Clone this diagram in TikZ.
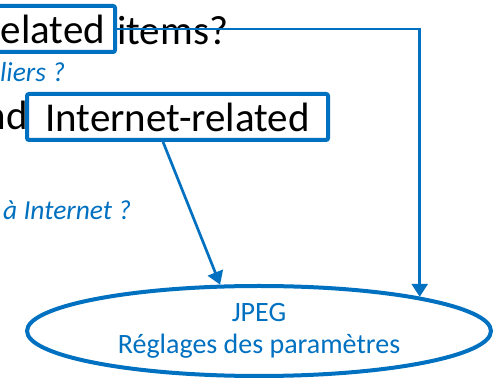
\documentclass[tikz,border=0pt]{standalone}
\usepackage{fontspec}
\setmainfont{Carlito}
\usepackage{tikz}
\usetikzlibrary{arrows.meta,shapes.geometric}
\definecolor{msblue}{HTML}{0070C0}
\tikzset{bigtext/.style = {font = \fontsize{41}{48}\selectfont, inner sep = 0pt}}
\tikzset{note/.style = {font = \fontsize{27.5}{32}\selectfont\itshape, text = msblue, inner sep = 0pt}}
\tikzset{hilite/.style = {draw = msblue, line width = 4pt, rounded corners = 2pt, font = \fontsize{41}{48}\selectfont, inner xsep = 10pt, minimum height = 46pt}}
\tikzset{target/.style = {shape = ellipse, draw = msblue, line width = 4pt, minimum width = 464pt, minimum height = 90pt, inner sep = 0pt, text = msblue, align = center, font = \fontsize{28}{32}\selectfont}}
\tikzset{edge/.style = {->, > = {Triangle[length = 13pt, width = 16pt]}, draw = msblue, line width = 2.7pt}}

\begin{document}
\begin{tikzpicture}[x = 1pt, y = 1pt]
			\useasboundingbox (0, 0) rectangle (494, 379);
			\clip (0, 0) rectangle (494, 379);

			\node[bigtext, anchor = base west] (items) at (117, 334) {items?};
			\node[hilite, anchor = east] (box1) at (117, 350) {elated};
			\node[note, anchor = base west] (liers) at (0, 297) {liers ?};
			\node[bigtext, anchor = base east] (nd) at (28, 249) {nd};
			\node[hilite, minimum width = 301pt] (box2) at (177.5, 262) {Internet-related};
			\node[note, anchor = base west] (inet) at (3, 159) {à Internet ?};
			\node[target] (jpeg) at (259, 48) {JPEG\\Réglages des paramètres};

			\draw[edge] (box1.east) -| (jpeg.12.05);
			\draw[edge] (box2.240) -- (jpeg.130);
		\end{tikzpicture}
\end{document}
